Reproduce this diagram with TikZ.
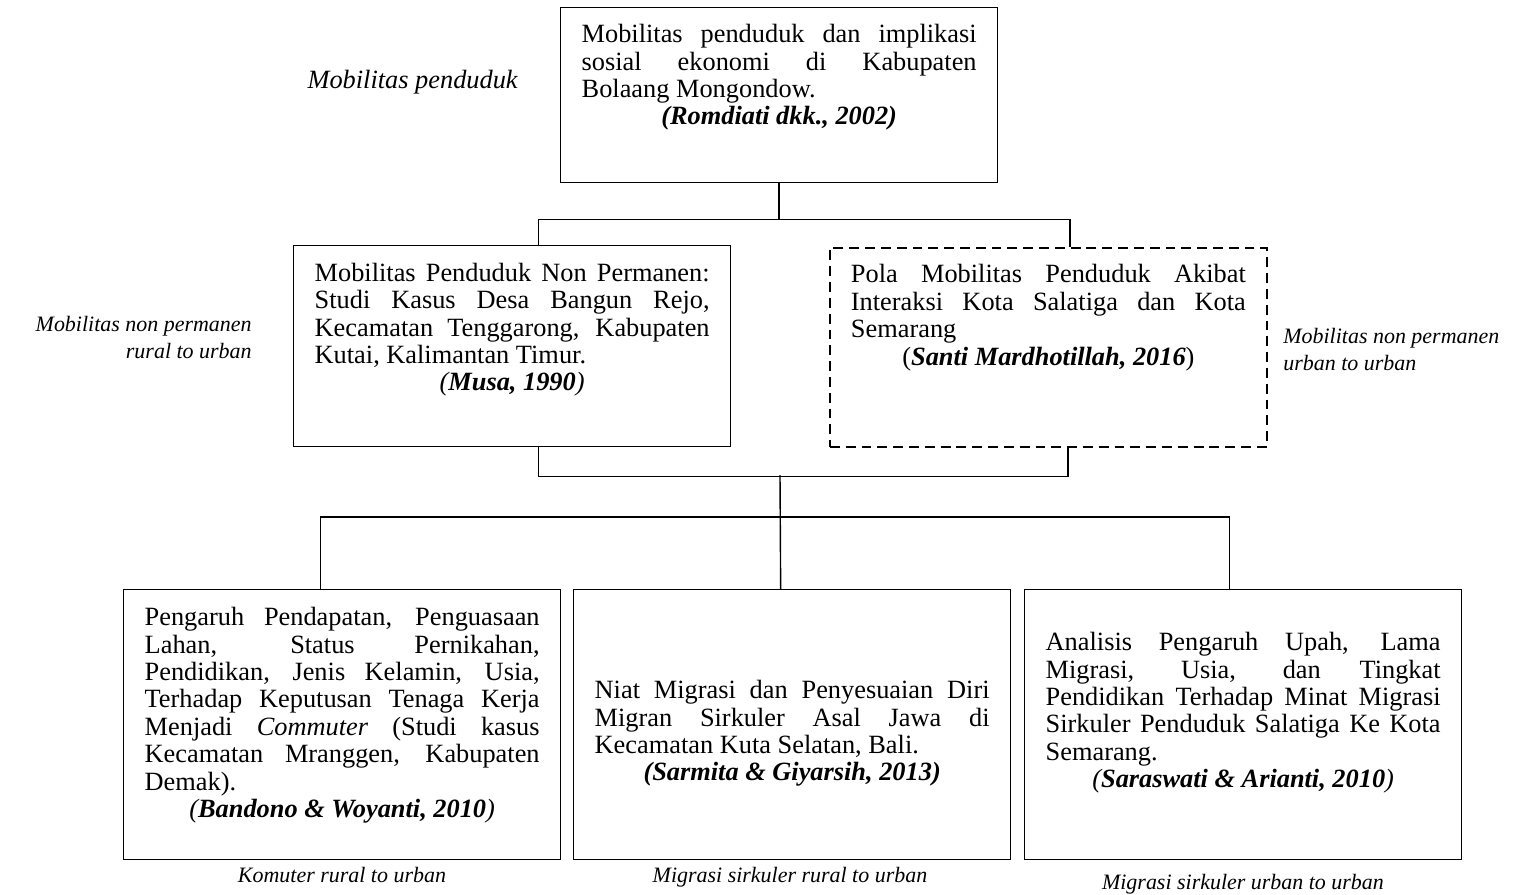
\documentclass[tikz,border=0pt]{standalone}
\usepackage{fontspec}
\setmainfont{Liberation Serif}
\newcommand{\fl}[1]{\makebox[7.9cm][s]{\spaceskip=0pt\relax#1}\par}

\tikzset{
	box/.style={draw, line width=0.8pt, anchor=north west, inner xsep=0.42cm, inner ysep=0pt, text width=7.9cm, align=justify, font=\fontsize{15pt}{15.6pt}\selectfont},
	dashbox/.style={box, line width=1.1pt, dash pattern=on 5.6pt off 3.4pt},
	lbl/.style={inner sep=0pt, font=\fontsize{12.5pt}{15.3pt}\selectfont\itshape},
	link/.style={line width=0.8pt}
}

\begin{document}
\begin{tikzpicture}[x=0.02cm, y=-0.02cm]
	\useasboundingbox (0,0) rectangle (1526,894);
	\node[box, text height=0.70cm, text depth=2.80cm] (romdiati) at (560,7) {
		\fl{Mobilitas penduduk dan implikasi}
		\fl{sosial ekonomi di Kabupaten}
		Bolaang Mongondow.\par
		{\centering\textbf{\textit{(Romdiati dkk., 2002)}}\par}};
	\node[box, text height=0.71cm, text depth=3.31cm] (musa) at (293,245) {
		\fl{Mobilitas Penduduk Non Permanen:}
		\fl{Studi Kasus Desa Bangun Rejo,}
		\fl{Kecamatan Tenggarong, Kabupaten}
		Kutai, Kalimantan Timur.\par
		{\centering\textit{(\textbf{Musa, 1990})}\par}};
	\node[dashbox, text height=0.70cm, text depth=3.28cm] (santi) at (829,247) {
		\fl{Pola Mobilitas Penduduk Akibat}
		\fl{Interaksi Kota Salatiga dan Kota}
		Semarang\par
		{\centering(\textbf{\textit{Santi Mardhotillah, 2016}})\par}};
	\node[box, text height=0.72cm, text depth=4.68cm] (bandono) at (123,589) {
		\fl{Pengaruh Pendapatan, Penguasaan}
		\fl{Lahan, Status Pernikahan,}
		\fl{Pendidikan, Jenis Kelamin, Usia,}
		\fl{Terhadap Keputusan Tenaga Kerja}
		\fl{Menjadi \textit{Commuter} (Studi kasus}
		\fl{Kecamatan Mranggen, Kabupaten}
		Demak).\par
		{\centering\textit{(\textbf{Bandono \& Woyanti, 2010})}\par}};
	\node[box, text height=2.18cm, text depth=3.22cm] (sarmita) at (573,589) {
		\fl{Niat Migrasi dan Penyesuaian Diri}
		\fl{Migran Sirkuler Asal Jawa di}
		Kecamatan Kuta Selatan, Bali.\par
		{\centering\textbf{\textit{(Sarmita \& Giyarsih, 2013)}}\par}};
	\node[box, text height=1.22cm, text depth=4.18cm] (saraswati) at (1024,589) {
		\fl{Analisis Pengaruh Upah, Lama}
		\fl{Migrasi, Usia, dan Tingkat}
		\fl{Pendidikan Terhadap Minat Migrasi}
		\fl{Sirkuler Penduduk Salatiga Ke Kota}
		Semarang.\par
		{\centering\textit{(\textbf{Saraswati \& Arianti, 2010})}\par}};

	\node[lbl, anchor=base east, font=\fontsize{15pt}{16pt}\selectfont\itshape] (lpenduduk) at (518,88) {Mobilitas penduduk};
	\node[lbl, anchor=base east, align=right] (lrural) at (252,358) {Mobilitas non permanen\\rural to urban};
	\node[lbl, anchor=base west, align=left] (lurban) at (1283,370) {Mobilitas non permanen\\urban to urban};
	\node[lbl, anchor=base] (lkomuter) at (342,882) {Komuter rural to urban};
	\node[lbl, anchor=base] (lsirkrural) at (790,882) {Migrasi sirkuler rural to urban};
	\node[lbl, anchor=base] (lsirkurban) at (1243,889) {Migrasi sirkuler urban to urban};

	\coordinate (j2) at (780,475);
	\draw[link] (romdiati.south) -- ++(0cm,-0.72cm) -| ([xshift=0.53cm]musa.north);
	\draw[link] (romdiati.south) -- ++(0cm,-0.72cm) -| ([xshift=0.43cm]santi.north);
	\draw[link] ([xshift=0.53cm]musa.south) -- ++(0cm,-0.58cm) -| ([xshift=0.39cm]santi.south);
	\draw[link] (j2) -- ([xshift=-0.23cm]sarmita.north);
	\draw[link] ([xshift=-0.43cm]bandono.north) -- ++(0cm,1.44cm) -| ([xshift=-0.27cm]saraswati.north);
\end{tikzpicture}
\end{document}
